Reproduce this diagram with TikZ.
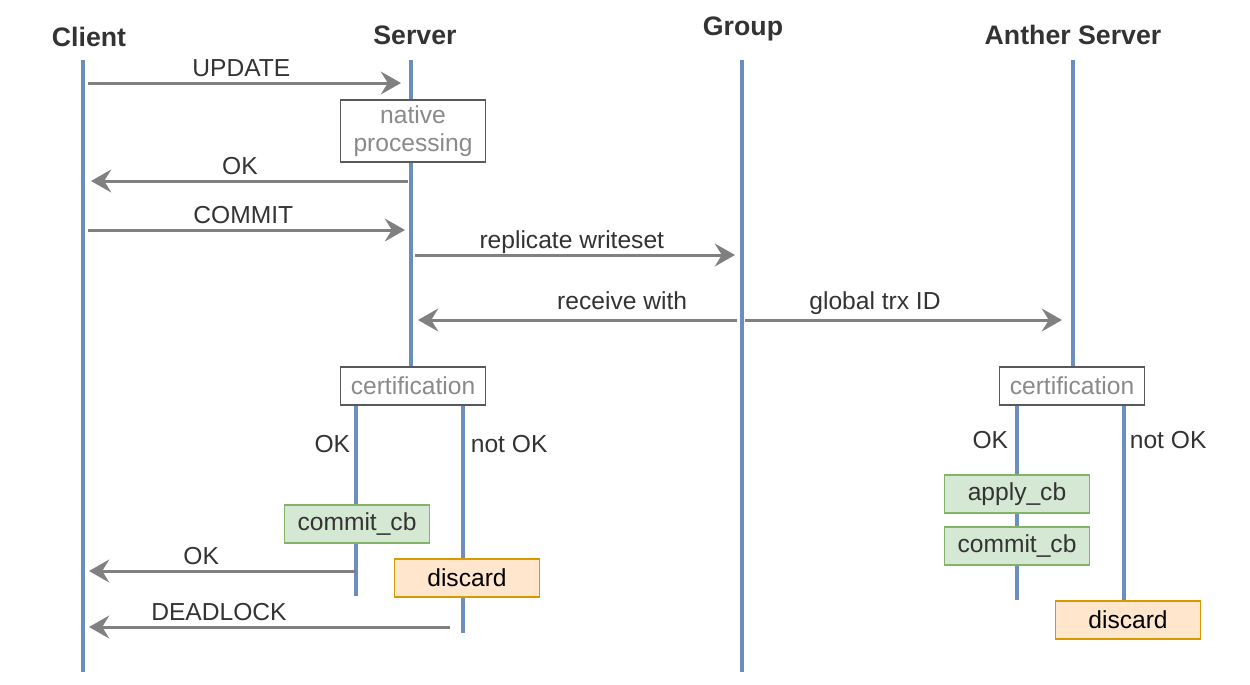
\documentclass[tikz,border=0pt]{standalone}
\usepackage{fontspec}
\setmainfont{Liberation Sans}
\usepackage{xcolor}
\usepackage{tikz}
\usetikzlibrary{arrows.meta}
\definecolor{ink}{HTML}{333333}
\definecolor{lifeblue}{HTML}{6C8EBF}
\definecolor{msggray}{HTML}{808080}
\definecolor{boxline}{HTML}{595959}
\definecolor{boxtext}{HTML}{8A8A8A}
\definecolor{okline}{HTML}{82B366}
\definecolor{okfill}{HTML}{D5E8D4}
\definecolor{failline}{HTML}{D79B00}
\definecolor{failfill}{HTML}{FFE6CC}
\tikzset{
  life/.style={draw=lifeblue, line width=2.3pt},
  msg/.style={draw=msggray, line width=1.7pt, -{Stealth[length=11.5pt, width=13pt, inset=4pt]}},
  head/.style={text=ink, font=\bfseries\fontsize{15.2}{18}\selectfont},
  lab/.style={text=ink, font=\fontsize{14}{16}\selectfont, inner sep=2pt, text depth=0pt},
  procbox/.style={draw=boxline, fill=white, line width=0.9pt, text=boxtext, inner sep=0pt,
    minimum width=2.9cm, minimum height=0.76cm, align=center, font=\fontsize{14}{16}\selectfont},
  okbox/.style={procbox, draw=okline, fill=okfill, text=ink},
  failbox/.style={procbox, draw=failline, fill=failfill, text=black},
}
\begin{document}
\begin{tikzpicture}[x=0.02cm, y=-0.02cm]
  \useasboundingbox (0,0) rectangle (1250,684);
  \def\xC{83}
  \def\xS{411}
  \def\xG{742}
  \def\xA{1073}

  % heads and lifelines
  \node[head] (client) at (89,37) {Client};
  \node[head] (server) at (415,35) {Server};
  \node[head] (group)  at (743,29) {Group};
  \node[head] (other)  at (1073,35) {Anther Server};
  \draw[life] (\xC,60) -- (\xC,672);
  \draw[life] (\xS,60) -- (\xS,368);
  \draw[life] (\xG,60) -- (\xG,672);
  \draw[life] (\xA,60) -- (\xA,368);
  % branches after certification
  \draw[life] (356,405) -- (356,596);
  \draw[life] (463,405) -- (463,633);
  \draw[life] (1017,405) -- (1017,600);
  \draw[life] (1124,405) -- (1124,601);

  % boxes
  \node[procbox, minimum height=1.24cm] (native) at (413,131) {native\\processing};
  \node[procbox] (certS) at (413,386) {certification};
  \node[procbox] (certA) at (1072,386) {certification};
  \node[okbox]   (commitS)  at (357,524) {commit\_cb};
  \node[failbox] (discardS) at (467,578) {discard};
  \node[okbox]   (applyA)   at (1017,494) {apply\_cb};
  \node[okbox]   (commitA)  at (1017,546) {commit\_cb};
  \node[failbox] (discardA) at (1128,620) {discard};

  \node[lab, anchor=east] (okS)    at (354,444) {OK};
  \node[lab, anchor=west] (notokS) at (467,444) {not OK};
  \node[lab, anchor=east] (okA)    at (1012,440) {OK};
  \node[lab, anchor=west] (notokA) at (1126,440) {not OK};

  % message ends
  \foreach \n/\x/\y in {u1/88/83, u2/401/83, o1/408/181, o2/91/181,
      c1/88/230, c2/405/230, r1/415/255, r2/735/255,
      g1/737/320, g2/418/320, g3/745/320, g4/1062/320,
      k1/356/571, k2/89/571, d1/450/627, d2/89/627}
    \coordinate (\n) at (\x,\y);

  \draw[msg] (u1) -- node[lab, above=0.8pt, pos=0.49] (lupdate) {UPDATE} (u2);
  \draw[msg] (o1) -- node[lab, above=0.8pt, pos=0.53] (lok) {OK} (o2);
  \draw[msg] (c1) -- node[lab, above=0.8pt, pos=0.49] (lcommit) {COMMIT} (c2);
  \draw[msg] (r1) -- node[lab, above=0.8pt, pos=0.49] (lrepl) {replicate writeset} (r2);
  \draw[msg] (g1) -- node[lab, above=3pt, pos=0.36] (lrecv) {receive with} (g2);
  \draw[msg] (g3) -- node[lab, above=3pt, pos=0.41] (lgid) {global trx ID} (g4);
  \draw[msg] (k1) -- node[lab, above=0.8pt, pos=0.58] (lok2) {OK} (k2);
  \draw[msg] (d1) -- node[lab, above=0.8pt, pos=0.64] (ldead) {DEADLOCK} (d2);
\end{tikzpicture}
\end{document}
